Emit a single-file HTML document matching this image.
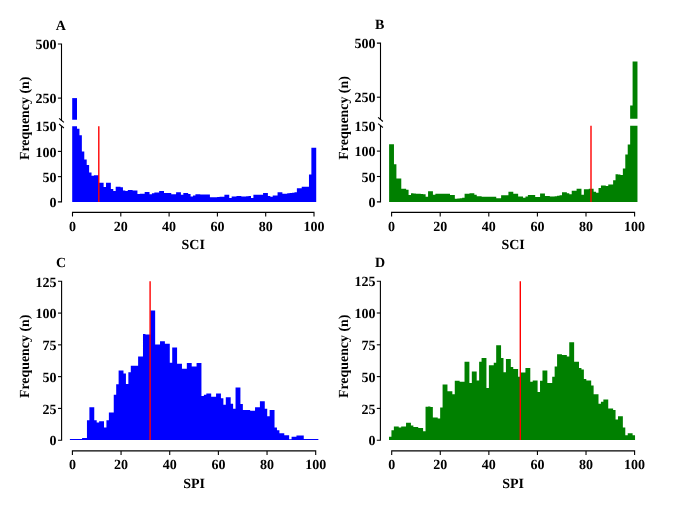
<!DOCTYPE html>
<html><head><meta charset="utf-8"><title>Figure</title>
<style>
html,body{margin:0;padding:0;background:#fff;}
svg{display:block;}
text{font-family:"Liberation Serif","Times New Roman",serif;font-weight:bold;fill:#000;text-rendering:geometricPrecision;}
</style></head><body>
<svg width="682" height="507" viewBox="0 0 682 507">
<rect width="682" height="507" fill="#fff"/>
<path d="M72.2,201.9V126.15H74.62V126.15H77.03V128.68H79.45V135.24H81.86V151.4H84.28V159.48H86.7V165.03H89.11V172.61H91.53V175.64H93.94V175.13H96.36V175.13H98.78V182.71H101.19V182.71H103.61V187.05H106.02V182.71H108.44V182.71H110.86V189.07H113.27V190.94H115.69V186.75H118.1V186.75H120.52V187.25H122.94V190.59H125.35V190.94H127.77V190.03H130.18V190.03H132.6V190.39H135.02V190.59H137.43V194.12H139.85V193.82H142.26V193.82H144.68V192.1H147.1V192.1H149.51V194.22H151.93V193.31H154.34V192.46H156.76V192.46H159.18V190.89H161.59V190.89H164.01V193.06H166.42V193.06H168.84V193.06H171.26V194.22H173.67V194.22H176.09V192.2H178.5V192.2H180.92V194.68H183.34V193.06H185.75V193.06H188.17V194.07H190.58V196.45H193V195.54H195.42V194.33H197.83V194.33H200.25V194.48H202.66V194.48H205.08V194.48H207.5V194.48H209.91V197.36H212.33V197.36H214.74V197.2H217.16V197.05H219.58V196.85H221.99V196.85H224.41V194.83H226.82V194.83H229.24V198.01H231.66V196.6H234.07V196.6H236.49V195.99H238.9V195.99H241.32V196.6H243.74V196.6H246.15V196.24H248.57V196.09H250.98V198.11H253.4V194.68H255.82V194.68H258.23V194.68H260.65V194.68H263.06V193.06H265.48V193.06H267.9V195.99H270.31V196.85H272.73V195.54H275.14V195.54H277.56V192.2H279.98V192.2H282.39V193.82H284.81V193.82H287.22V193.31H289.64V193.06H292.06V192.71H294.47V192.2H296.89V188.32H299.3V188.32H301.72V186.75H304.14V186.75H306.55V186.75H308.97V174.38H311.38V147.87H313.8V147.87H316.22V201.9Z" fill="#0000ff"/>
<path d="M72.2,119.74V98.1H74.62V98.1H77.03V119.74Z" fill="#0000ff"/>
<line x1="98.8" x2="98.8" y1="126.15" y2="201.9" stroke="#ff0000" stroke-width="1.4"/>
<g stroke="#000" stroke-width="1.1" fill="none">
<path d="M57.9,44 H61.5 V120.94"/>
<path d="M61.5,126.15 V201.9 H57.9"/>
<path d="M57.9,98.1 H61.5"/>
<path d="M57.9,151.4 H61.5"/>
<path d="M57.9,176.65 H61.5"/>
<path d="M59.1,118.34 L63.9,122.44"/>
<path d="M59.1,124.05 L63.9,127.95"/>
<path d="M72.5,216.4 V212.4 H314 V216.4"/>
<path d="M120.8,212.4 V216.4"/>
<path d="M169.1,212.4 V216.4"/>
<path d="M217.4,212.4 V216.4"/>
<path d="M265.7,212.4 V216.4"/>
</g>
<text x="56.5" y="49.2" text-anchor="end" font-size="14">500</text>
<text x="56.5" y="103.3" text-anchor="end" font-size="14">250</text>
<text x="56.5" y="131.35" text-anchor="end" font-size="14">150</text>
<text x="56.5" y="156.6" text-anchor="end" font-size="14">100</text>
<text x="56.5" y="181.85" text-anchor="end" font-size="14">50</text>
<text x="56.5" y="207.1" text-anchor="end" font-size="14">0</text>
<text x="72.5" y="231.2" text-anchor="middle" font-size="14">0</text>
<text x="120.8" y="231.2" text-anchor="middle" font-size="14">20</text>
<text x="169.1" y="231.2" text-anchor="middle" font-size="14">40</text>
<text x="217.4" y="231.2" text-anchor="middle" font-size="14">60</text>
<text x="265.7" y="231.2" text-anchor="middle" font-size="14">80</text>
<text x="314" y="231.2" text-anchor="middle" font-size="14">100</text>
<text x="193.25" y="249.4" text-anchor="middle" font-size="14">SCI</text>
<text x="60.8" y="30.3" text-anchor="middle" font-size="14">A</text>
<text transform="translate(29.3,118.35) rotate(-90)" text-anchor="middle" font-size="13.9">Frequency (n)</text>
<path d="M389.1,201.9V144.14H391.54V144.14H393.97V164.31H396.41V178.53H398.84V178.53H401.28V188.69H403.71V188.69H406.15V189.71H408.58V195.04H411.02V193.26H413.45V193.52H415.89V193.77H418.32V193.77H420.76V194.03H423.19V194.28H425.63V196.82H428.06V191.13H430.5V191.13H432.93V194.69H435.37V193.87H437.8V193.87H440.24V193.87H442.67V193.87H445.11V193.87H447.54V193.87H449.98V195.04H452.41V195.04H454.85V198.75H457.28V198.6H459.72V198.19H462.15V197.73H464.59V193.77H467.02V193.77H469.46V193.26H471.89V193.26H474.33V194.64H476.76V196.21H479.2V196.21H481.63V196.82H484.07V196.82H486.5V196.82H488.94V196.82H491.37V196.82H493.81V196.82H496.24V198.19H498.68V198.19H501.11V195.3H503.55V195.3H505.98V195.3H508.42V191.74H510.85V191.74H513.29V193.77H515.72V193.77H518.15V196.57H520.59V196.57H523.02V197.73H525.46V196.57H527.89V194.89H530.33V194.89H532.76V194.89H535.2V197.12H537.63V197.12H540.07V193.57H542.5V193.57H544.94V195.96H547.37V195.96H549.81V196.57H552.24V196.57H554.68V196.21H557.11V195.8H559.55V195.3H561.98V192.15H564.42V192.15H566.85V193.26H569.29V194.33H571.72V190.72H574.16V190.72H576.59V188.69H579.03V188.69H581.46V194.64H583.9V189.2H586.33V189.2H588.77V188.69H591.2V188.69H593.64V191.84H596.07V192.86H598.51V187.98H600.94V185.49H603.38V185.49H605.81V185.9H608.25V184.42H610.68V184.42H613.12V180.31H615.55V174.21H617.99V174.47H620.42V174.98H622.86V168.47H625.29V154.4H627.73V144.5H630.16V125.7H632.6V125.7H635.03V125.7H637.47V201.9Z" fill="#008000"/>
<path d="M630.16,118.84V105.42H632.6V61.49H635.03V61.49H637.47V118.84Z" fill="#008000"/>
<line x1="591" x2="591" y1="125.7" y2="201.9" stroke="#ff0000" stroke-width="1.4"/>
<g stroke="#000" stroke-width="1.1" fill="none">
<path d="M376.9,43.1 H380.5 V120.04"/>
<path d="M380.5,125.7 V201.9 H376.9"/>
<path d="M376.9,97.2 H380.5"/>
<path d="M376.9,151.1 H380.5"/>
<path d="M376.9,176.5 H380.5"/>
<path d="M378.1,117.44 L382.9,121.54"/>
<path d="M378.1,123.6 L382.9,127.5"/>
<path d="M391.6,216.4 V212.4 H634.6 V216.4"/>
<path d="M440.2,212.4 V216.4"/>
<path d="M488.8,212.4 V216.4"/>
<path d="M537.4,212.4 V216.4"/>
<path d="M586,212.4 V216.4"/>
</g>
<text x="375.5" y="48.3" text-anchor="end" font-size="14">500</text>
<text x="375.5" y="102.4" text-anchor="end" font-size="14">250</text>
<text x="375.5" y="130.9" text-anchor="end" font-size="14">150</text>
<text x="375.5" y="156.3" text-anchor="end" font-size="14">100</text>
<text x="375.5" y="181.7" text-anchor="end" font-size="14">50</text>
<text x="375.5" y="207.1" text-anchor="end" font-size="14">0</text>
<text x="391.6" y="231.2" text-anchor="middle" font-size="14">0</text>
<text x="440.2" y="231.2" text-anchor="middle" font-size="14">20</text>
<text x="488.8" y="231.2" text-anchor="middle" font-size="14">40</text>
<text x="537.4" y="231.2" text-anchor="middle" font-size="14">60</text>
<text x="586" y="231.2" text-anchor="middle" font-size="14">80</text>
<text x="634.6" y="231.2" text-anchor="middle" font-size="14">100</text>
<text x="513.1" y="249.4" text-anchor="middle" font-size="14">SCI</text>
<text x="379.7" y="28.8" text-anchor="middle" font-size="14">B</text>
<text transform="translate(348.3,117.9) rotate(-90)" text-anchor="middle" font-size="13.9">Frequency (n)</text>
<path d="M69.9,440V439.01H72.34V439.01H74.77V439.01H77.21V439.01H79.64V439.01H82.08V437.99H84.52V437.99H86.95V420.2H89.39V407.36H91.82V407.36H94.26V420.2H96.7V422.48H99.13V421.21H101.57V421.21H104V427.57H106.44V420.2H108.88V412.57H111.31V412.57H113.75V394.77H116.18V384.22H118.62V370.62H121.06V370.62H123.49V373.42H125.93V383.97H128.36V372.15H130.8V365.66H133.24V365.66H135.67V365.66H138.11V356.51H140.54V356.51H142.98V333.88H145.42V334.39H147.85V334.39H150.29V310.49H152.72V310.49H155.16V344.56H157.6V344.56H160.03V341.25H162.47V341.25H164.9V343.8H167.34V343.8H169.78V362.74H172.21V347.48H174.65V347.48H177.08V363.63H179.52V363.63H181.96V368.71H184.39V368.71H186.83V362.99H189.26V362.99H191.7V366.55H194.14V366.55H196.57V362.99H199.01V362.99H201.44V396.04H203.88V394.65H206.32V393.5H208.75V393.5H211.19V396.81H213.62V396.81H216.06V393.5H218.5V393.5H220.93V398.33H223.37V404.69H225.8V397.31H228.24V397.31H230.68V403.67H233.11V408.63H235.55V387.4H237.98V387.4H240.42V403.93H242.86V409.9H245.29V409.9H247.73V409.9H250.16V410.79H252.6V410.79H255.04V407.36H257.47V407.36H259.91V401.13H262.34V401.13H264.78V408.63H267.22V416.13H269.65V409.9H272.09V409.9H274.52V427.57H276.96V430.24H279.4V433.29H281.83V433.29H284.27V435.32H286.7V435.32H289.14V439.14H291.58V436.85H294.01V436.85H296.45V435.45H298.88V435.45H301.32V435.45H303.76V439.01H306.19V439.01H308.63V439.01H311.06V439.01H313.5V439.01H315.94V439.01H318.37V440Z" fill="#0000ff"/>
<line x1="150.1" x2="150.1" y1="281.3" y2="439.9" stroke="#ff0000" stroke-width="1.4"/>
<g stroke="#000" stroke-width="1.1" fill="none">
<path d="M58,281.3 H61.6 V440.2 H58"/>
<path d="M58,408.42 H61.6"/>
<path d="M58,376.64 H61.6"/>
<path d="M58,344.86 H61.6"/>
<path d="M58,313.08 H61.6"/>
<path d="M72.4,454.9 V450.9 H315.7 V454.9"/>
<path d="M121.06,450.9 V454.9"/>
<path d="M169.72,450.9 V454.9"/>
<path d="M218.38,450.9 V454.9"/>
<path d="M267.04,450.9 V454.9"/>
</g>
<text x="56.6" y="445.4" text-anchor="end" font-size="14">0</text>
<text x="56.6" y="413.62" text-anchor="end" font-size="14">25</text>
<text x="56.6" y="381.84" text-anchor="end" font-size="14">50</text>
<text x="56.6" y="350.06" text-anchor="end" font-size="14">75</text>
<text x="56.6" y="318.28" text-anchor="end" font-size="14">100</text>
<text x="56.6" y="286.5" text-anchor="end" font-size="14">125</text>
<text x="72.4" y="469.1" text-anchor="middle" font-size="14">0</text>
<text x="121.06" y="469.1" text-anchor="middle" font-size="14">20</text>
<text x="169.72" y="469.1" text-anchor="middle" font-size="14">40</text>
<text x="218.38" y="469.1" text-anchor="middle" font-size="14">60</text>
<text x="267.04" y="469.1" text-anchor="middle" font-size="14">80</text>
<text x="315.7" y="469.1" text-anchor="middle" font-size="14">100</text>
<text x="194.05" y="487.7" text-anchor="middle" font-size="14">SPI</text>
<text x="61.1" y="266.8" text-anchor="middle" font-size="14">C</text>
<text transform="translate(29.4,356.35) rotate(-90)" text-anchor="middle" font-size="13.9">Frequency (n)</text>
<path d="M389,440V436.85H391.44V430.23H393.87V426.54H396.31V426.54H398.74V427.56H401.18V426.54H403.62V426.54H406.05V422.86H408.49V422.86H410.92V425.4H413.36V426.93H415.8V426.93H418.23V427.94H420.67V427.94H423.1V431.25H425.54V406.83H427.98V406.57H430.41V407.08H432.85V417.51H435.28V417.51H437.72V418.53H440.16V407.59H442.59V384.57H445.03V384.57H447.46V391.18H449.9V391.18H452.34V394.36H454.77V380.75H457.21V380.75H459.64V381.64H462.08V381.64H464.52V361.67H466.95V361.67H469.39V383.04H471.82V371.59H474.26V371.59H476.7V380.5H479.13V361.67H481.57V357.98H484V357.98H486.44V387.88H488.88V365.36H491.31V365.36H493.75V362.69H496.18V345.26H498.62V345.26H501.06V357.98H503.49V372.36H505.93V359H508.36V359H510.8V366.89H513.24V369.05H515.67V369.05H518.11V376.81H520.54V372.61H522.98V372.61H525.42V367.9H527.85V367.9H530.29V381.64H532.72V380.5H535.16V380.5H537.6V391.95H540.03V380.75H542.47V370.45H544.9V370.45H547.34V383.04H549.78V383.04H552.21V376.81H554.65V366.38H557.08V354.17H559.52V354.17H561.96V355.06H564.39V355.06H566.83V356.58H569.26V342.34H571.7V342.34H574.14V361.67H576.57V361.67H579.01V367.9H581.44V369.43H583.88V378.97H586.32V380.62H588.75V380.62H591.19V385.59H593.62V394.24H596.06V394.24H598.5V403.65H600.93V401.74H603.37V399.45H605.8V399.45H608.24V408.61H610.68V408.61H613.11V409.88H615.55V419.55H617.98V416.24H620.42V416.24H622.86V427.56H625.29V435.32H627.73V433.29H630.16V433.29H632.6V435.32H635.04V440Z" fill="#008000"/>
<line x1="520.3" x2="520.3" y1="281.2" y2="439.9" stroke="#ff0000" stroke-width="1.4"/>
<g stroke="#000" stroke-width="1.1" fill="none">
<path d="M376.8,281.2 H380.4 V440.2 H376.8"/>
<path d="M376.8,408.4 H380.4"/>
<path d="M376.8,376.6 H380.4"/>
<path d="M376.8,344.8 H380.4"/>
<path d="M376.8,313 H380.4"/>
<path d="M391.7,454.9 V450.9 H634.6 V454.9"/>
<path d="M440.28,450.9 V454.9"/>
<path d="M488.86,450.9 V454.9"/>
<path d="M537.44,450.9 V454.9"/>
<path d="M586.02,450.9 V454.9"/>
</g>
<text x="375.4" y="445.4" text-anchor="end" font-size="14">0</text>
<text x="375.4" y="413.6" text-anchor="end" font-size="14">25</text>
<text x="375.4" y="381.8" text-anchor="end" font-size="14">50</text>
<text x="375.4" y="350" text-anchor="end" font-size="14">75</text>
<text x="375.4" y="318.2" text-anchor="end" font-size="14">100</text>
<text x="375.4" y="286.4" text-anchor="end" font-size="14">125</text>
<text x="391.7" y="469.1" text-anchor="middle" font-size="14">0</text>
<text x="440.28" y="469.1" text-anchor="middle" font-size="14">20</text>
<text x="488.86" y="469.1" text-anchor="middle" font-size="14">40</text>
<text x="537.44" y="469.1" text-anchor="middle" font-size="14">60</text>
<text x="586.02" y="469.1" text-anchor="middle" font-size="14">80</text>
<text x="634.6" y="469.1" text-anchor="middle" font-size="14">100</text>
<text x="513.15" y="487.7" text-anchor="middle" font-size="14">SPI</text>
<text x="380" y="266.5" text-anchor="middle" font-size="14">D</text>
<text transform="translate(348.2,356.3) rotate(-90)" text-anchor="middle" font-size="13.9">Frequency (n)</text>
</svg>
</body></html>
